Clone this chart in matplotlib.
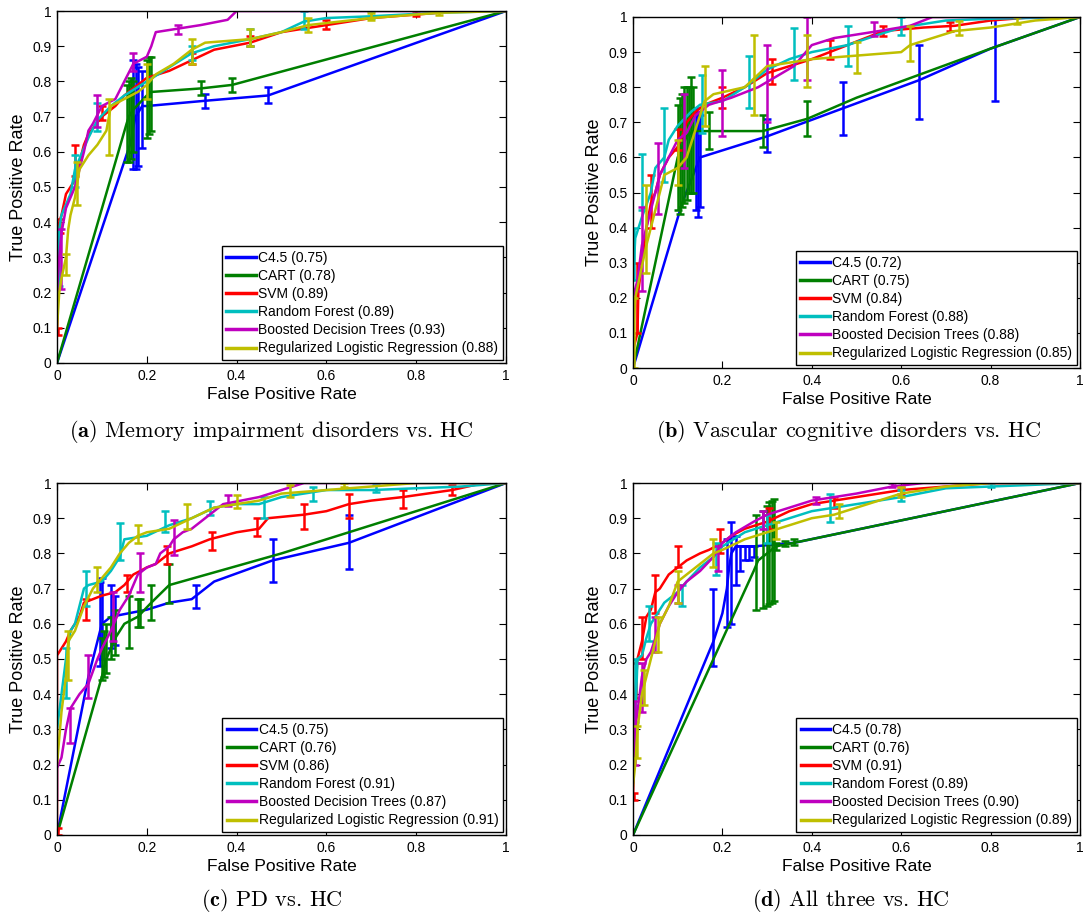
import numpy as np
import matplotlib
matplotlib.use("Agg")
import matplotlib.pyplot as plt

plt.rcParams['font.family'] = ['Liberation Sans', 'DejaVu Sans']
plt.rcParams['mathtext.fontset'] = 'cm'

methods = ["C4.5", "CART", "SVM", "Random Forest", "Boosted Decision Trees",
           "Regularized Logistic Regression"]
colors = ["#0000ff", "#007f00", "#ff0000", "#00bfbf", "#bf00bf", "#bfbf00"]

captions = ["Memory impairment disorders vs. HC", "Vascular cognitive disorders vs. HC",
            "PD vs. HC", "All three vs. HC"]
a_auc = ["0.75", "0.78", "0.89", "0.89", "0.93", "0.88"]
b_auc = ["0.72", "0.75", "0.84", "0.88", "0.88", "0.85"]
c_auc = ["0.75", "0.76", "0.86", "0.91", "0.87", "0.91"]
d_auc = ["0.78", "0.76", "0.91", "0.89", "0.90", "0.89"]

# ---- (a) memory impairment ----
a_c45_x = [0, 0.165, 0.17, 0.175, 0.18, 0.19, 0.2, 0.33, 0.47, 1.0]
a_c45_y = [0, 0.63, 0.67, 0.70, 0.71, 0.73, 0.73, 0.745, 0.76, 1.0]
a_c45_err = [(0.17, 0.55, 0.86), (0.175, 0.55, 0.85), (0.18, 0.56, 0.84), (0.19, 0.61, 0.83),
             (0.33, 0.725, 0.765), (0.47, 0.74, 0.785)]
a_cart_x = [0, 0.155, 0.16, 0.17, 0.2, 0.21, 0.32, 0.39, 1.0]
a_cart_y = [0, 0.68, 0.70, 0.72, 0.76, 0.77, 0.78, 0.79, 1.0]
a_cart_err = [(0.155, 0.57, 0.79), (0.16, 0.57, 0.80), (0.165, 0.58, 0.81), (0.17, 0.60, 0.80),
              (0.2, 0.64, 0.86), (0.205, 0.65, 0.87), (0.21, 0.66, 0.87),
              (0.32, 0.76, 0.80), (0.39, 0.77, 0.81)]
a_svm_x = [0, 0.005, 0.01, 0.02, 0.03, 0.04, 0.05, 0.06, 0.07, 0.1, 0.13, 0.15, 0.17, 0.2,
           0.25, 0.3, 0.35, 0.43, 0.5, 0.6, 0.7, 0.8, 0.9, 1.0]
a_svm_y = [0.08, 0.4, 0.42, 0.48, 0.5, 0.52, 0.57, 0.62, 0.65, 0.7, 0.73, 0.76, 0.78, 0.81,
           0.83, 0.86, 0.89, 0.91, 0.94, 0.96, 0.98, 0.99, 1.0, 1.0]
a_svm_err = [(0.003, 0.08, 0.1), (0.006, 0.37, 0.41), (0.04, 0.53, 0.62), (0.1, 0.69, 0.73),
             (0.3, 0.85, 0.88), (0.43, 0.9, 0.93), (0.6, 0.95, 0.975), (0.8, 0.985, 1.0)]
a_rf_x = [0, 0.005, 0.01, 0.03, 0.04, 0.05, 0.07, 0.09, 0.12, 0.15, 0.2, 0.25, 0.3, 0.35,
          0.43, 0.5, 0.55, 0.6, 0.7, 0.85, 1.0]
a_rf_y = [0.2, 0.38, 0.42, 0.48, 0.55, 0.58, 0.64, 0.69, 0.73, 0.76, 0.8, 0.84, 0.88, 0.9,
          0.92, 0.94, 0.97, 0.98, 0.985, 0.995, 1.0]
a_rf_err = [(0.004, 0.22, 0.38), (0.04, 0.5, 0.59), (0.09, 0.66, 0.74), (0.3, 0.86, 0.9),
            (0.43, 0.9, 0.95), (0.55, 0.95, 1.0), (0.7, 0.98, 1.0)]
a_bdt_x = [0, 0.005, 0.01, 0.02, 0.04, 0.06, 0.07, 0.08, 0.1, 0.13, 0.15, 0.17, 0.2, 0.21,
           0.22, 0.27, 0.32, 0.38, 0.4, 1.0]
a_bdt_y = [0.2, 0.3, 0.37, 0.44, 0.5, 0.6, 0.66, 0.68, 0.73, 0.75, 0.8, 0.85, 0.87, 0.9,
           0.94, 0.95, 0.96, 0.975, 1.0, 1.0]
a_bdt_err = [(0.01, 0.21, 0.38), (0.09, 0.67, 0.76), (0.17, 0.83, 0.88), (0.27, 0.935, 0.96)]
a_rlr_x = [0, 0.005, 0.01, 0.02, 0.025, 0.03, 0.04, 0.05, 0.07, 0.09, 0.11, 0.12, 0.15, 0.18,
           0.2, 0.22, 0.26, 0.3, 0.33, 0.43, 0.5, 0.56, 0.7, 0.85, 1.0]
a_rlr_y = [0.1, 0.2, 0.24, 0.3, 0.38, 0.42, 0.47, 0.55, 0.59, 0.62, 0.66, 0.73, 0.75, 0.77,
           0.79, 0.82, 0.85, 0.89, 0.91, 0.92, 0.94, 0.96, 0.98, 0.995, 1.0]
a_rlr_err = [(0.02, 0.25, 0.31), (0.045, 0.45, 0.57), (0.115, 0.59, 0.75), (0.2, 0.75, 0.85),
             (0.3, 0.85, 0.92), (0.43, 0.9, 0.95), (0.56, 0.94, 0.98), (0.7, 0.975, 0.995),
             (0.85, 0.99, 1.0)]

# ---- (b) vascular cognitive ----
b_c45_x = [0, 0.11, 0.15, 0.3, 0.47, 0.64, 0.8, 1.0]
b_c45_y = [0, 0.47, 0.6, 0.66, 0.74, 0.82, 0.91, 1.0]
b_c45_err = [(0.14, 0.45, 0.74), (0.145, 0.43, 0.73), (0.15, 0.46, 0.72), (0.3, 0.615, 0.71),
             (0.47, 0.665, 0.815), (0.64, 0.71, 0.92), (0.81, 0.76, 1.0)]
b_cart_x = [0, 0.1, 0.12, 0.135, 0.29, 0.39, 0.5, 0.8, 1.0]
b_cart_y = [0, 0.6, 0.66, 0.675, 0.675, 0.71, 0.77, 0.91, 1.0]
b_cart_err = [(0.1, 0.45, 0.75), (0.105, 0.44, 0.77), (0.11, 0.46, 0.78), (0.115, 0.47, 0.8),
              (0.12, 0.48, 0.8), (0.125, 0.5, 0.8), (0.13, 0.5, 0.83), (0.135, 0.5, 0.8),
              (0.17, 0.625, 0.73), (0.29, 0.63, 0.72), (0.39, 0.66, 0.76)]
b_svm_x = [0, 0.01, 0.012, 0.02, 0.03, 0.04, 0.05, 0.06, 0.08, 0.1, 0.11, 0.12, 0.14, 0.16,
           0.2, 0.25, 0.3, 0.35, 0.4, 0.44, 0.5, 0.56, 0.65, 0.72, 0.8, 0.9, 1.0]
b_svm_y = [0.05, 0.1, 0.22, 0.3, 0.4, 0.47, 0.5, 0.55, 0.6, 0.63, 0.66, 0.7, 0.73, 0.75,
           0.77, 0.8, 0.84, 0.86, 0.88, 0.9, 0.93, 0.96, 0.97, 0.975, 0.99, 1.0, 1.0]
b_svm_err = [(0.01, 0.1, 0.3), (0.04, 0.4, 0.55), (0.1, 0.62, 0.68), (0.2, 0.74, 0.8),
             (0.31, 0.81, 0.88), (0.44, 0.88, 0.935), (0.56, 0.945, 0.975), (0.71, 0.96, 0.985)]
b_rf_x = [0, 0.005, 0.02, 0.04, 0.05, 0.07, 0.08, 0.1, 0.13, 0.15, 0.2, 0.25, 0.3, 0.35, 0.4,
          0.48, 0.55, 0.6, 0.7, 0.8, 1.0]
b_rf_y = [0.25, 0.37, 0.43, 0.5, 0.57, 0.6, 0.65, 0.69, 0.73, 0.75, 0.76, 0.8, 0.85, 0.88,
          0.9, 0.92, 0.95, 0.97, 0.99, 0.995, 1.0]
b_rf_err = [(0.003, 0.25, 0.4), (0.02, 0.45, 0.61), (0.07, 0.53, 0.74), (0.155, 0.67, 0.835),
            (0.26, 0.74, 0.89), (0.36, 0.82, 0.97), (0.48, 0.86, 0.975), (0.6, 0.95, 1.0)]
b_bdt_x = [0, 0.01, 0.02, 0.04, 0.06, 0.08, 0.1, 0.12, 0.14, 0.17, 0.22, 0.28, 0.32, 0.36,
           0.4, 0.45, 0.5, 0.55, 0.62, 0.67, 1.0]
b_bdt_y = [0.2, 0.25, 0.35, 0.45, 0.55, 0.6, 0.65, 0.67, 0.72, 0.75, 0.77, 0.8, 0.83, 0.86,
           0.92, 0.94, 0.95, 0.96, 0.975, 1.0, 1.0]
b_bdt_err = [(0.02, 0.22, 0.46), (0.055, 0.44, 0.64), (0.115, 0.57, 0.78), (0.2, 0.66, 0.85),
             (0.3, 0.7, 0.92), (0.39, 0.82, 1.0), (0.54, 0.945, 0.985)]
b_rlr_x = [0, 0.005, 0.03, 0.05, 0.07, 0.1, 0.12, 0.14, 0.16, 0.18, 0.25, 0.3, 0.35, 0.4,
           0.5, 0.6, 0.62, 0.67, 0.72, 0.8, 0.9, 1.0]
b_rlr_y = [0.1, 0.2, 0.35, 0.45, 0.55, 0.57, 0.6, 0.68, 0.76, 0.78, 0.8, 0.86, 0.87, 0.88,
           0.89, 0.9, 0.92, 0.94, 0.96, 0.97, 0.99, 1.0]
b_rlr_err = [(0.003, 0.0, 0.2), (0.03, 0.27, 0.52), (0.1, 0.52, 0.65), (0.16, 0.69, 0.86),
             (0.27, 0.72, 0.95), (0.39, 0.8, 0.95), (0.5, 0.84, 0.93), (0.62, 0.875, 0.975),
             (0.73, 0.95, 0.99), (0.86, 0.98, 1.0)]

# ---- (c) PD ----
c_c45_x = [0, 0.07, 0.1, 0.12, 0.2, 0.25, 0.3, 0.35, 0.48, 0.65, 1.0]
c_c45_y = [0, 0.45, 0.6, 0.62, 0.64, 0.66, 0.67, 0.72, 0.78, 0.83, 1.0]
c_c45_err = [(0.095, 0.48, 0.72), (0.1, 0.5, 0.73), (0.12, 0.53, 0.71), (0.13, 0.54, 0.68),
             (0.31, 0.645, 0.71), (0.48, 0.72, 0.84), (0.65, 0.755, 0.91)]
c_cart_x = [0, 0.1, 0.11, 0.13, 0.15, 0.18, 0.21, 0.25, 0.5, 1.0]
c_cart_y = [0, 0.45, 0.5, 0.56, 0.6, 0.62, 0.66, 0.71, 0.8, 1.0]
c_cart_err = [(0.1, 0.44, 0.56), (0.105, 0.45, 0.58), (0.11, 0.46, 0.6), (0.12, 0.5, 0.62),
              (0.13, 0.51, 0.64), (0.16, 0.53, 0.68), (0.18, 0.59, 0.67), (0.185, 0.59, 0.67),
              (0.21, 0.61, 0.71), (0.25, 0.66, 0.77)]
c_svm_x = [0, 0, 0.01, 0.02, 0.03, 0.05, 0.06, 0.08, 0.1, 0.13, 0.15, 0.17, 0.2, 0.22, 0.25,
           0.3, 0.34, 0.4, 0.45, 0.47, 0.55, 0.6, 0.65, 0.7, 0.77, 0.88, 0.95, 1.0]
c_svm_y = [0.02, 0.51, 0.53, 0.55, 0.58, 0.62, 0.66, 0.67, 0.68, 0.69, 0.71, 0.74, 0.76,
           0.77, 0.8, 0.82, 0.84, 0.86, 0.87, 0.9, 0.91, 0.92, 0.94, 0.95, 0.96, 0.98, 1.0, 1.0]
c_svm_err = [(0.003, 0.0, 0.02), (0.065, 0.61, 0.67), (0.155, 0.69, 0.74), (0.245, 0.77, 0.82),
             (0.345, 0.81, 0.86), (0.445, 0.85, 0.9), (0.55, 0.87, 0.94), (0.65, 0.9, 0.97),
             (0.77, 0.93, 0.98), (0.88, 0.965, 0.995)]
c_rf_x = [0, 0.01, 0.02, 0.03, 0.04, 0.05, 0.06, 0.07, 0.1, 0.12, 0.14, 0.15, 0.2, 0.25, 0.3,
          0.35, 0.4, 0.45, 0.5, 0.55, 0.6, 0.7, 0.9, 1.0]
c_rf_y = [0.3, 0.4, 0.5, 0.58, 0.6, 0.65, 0.7, 0.71, 0.72, 0.75, 0.79, 0.84, 0.85, 0.88,
          0.9, 0.93, 0.94, 0.94, 0.96, 0.97, 0.98, 0.98, 0.99, 1.0]
c_rf_err = [(0.02, 0.39, 0.53), (0.065, 0.65, 0.75), (0.14, 0.78, 0.885), (0.24, 0.86, 0.92),
            (0.34, 0.91, 0.95), (0.46, 0.9, 0.96), (0.57, 0.95, 0.99), (0.71, 0.975, 0.995)]
c_bdt_x = [0, 0, 0.01, 0.02, 0.03, 0.05, 0.07, 0.09, 0.1, 0.12, 0.14, 0.16, 0.18, 0.2, 0.22,
           0.23, 0.25, 0.26, 0.28, 0.3, 0.33, 0.37, 0.45, 0.5, 0.55, 1.0]
c_bdt_y = [0.1, 0.19, 0.22, 0.3, 0.36, 0.4, 0.43, 0.5, 0.53, 0.58, 0.64, 0.68, 0.74, 0.76,
           0.77, 0.8, 0.82, 0.84, 0.86, 0.87, 0.9, 0.94, 0.96, 0.98, 1.0, 1.0]
c_bdt_err = [(0.03, 0.26, 0.36), (0.07, 0.39, 0.51), (0.125, 0.55, 0.69), (0.185, 0.69, 0.8),
             (0.26, 0.795, 0.895), (0.38, 0.935, 0.965)]
c_rlr_x = [0, 0.01, 0.02, 0.025, 0.04, 0.06, 0.08, 0.1, 0.12, 0.14, 0.16, 0.18, 0.2, 0.25,
           0.3, 0.35, 0.4, 0.45, 0.5, 0.6, 0.7, 0.8, 1.0]
c_rlr_y = [0.2, 0.35, 0.45, 0.55, 0.58, 0.65, 0.7, 0.73, 0.76, 0.8, 0.83, 0.85, 0.86, 0.87,
           0.9, 0.93, 0.94, 0.95, 0.97, 0.98, 0.99, 1.0, 1.0]
c_rlr_err = [(0.025, 0.44, 0.58), (0.09, 0.69, 0.76), (0.18, 0.83, 0.88), (0.29, 0.87, 0.94),
             (0.4, 0.93, 0.965), (0.52, 0.96, 0.995), (0.64, 0.99, 1.0)]

# ---- (d) all three ----
d_c45_x = [0, 0.17, 0.18, 0.2, 0.21, 0.215, 0.22, 0.23, 0.27, 0.36, 1.0]
d_c45_y = [0, 0.52, 0.55, 0.63, 0.7, 0.76, 0.8, 0.82, 0.82, 0.83, 1.0]
d_c45_err = [(0.18, 0.48, 0.7), (0.21, 0.59, 0.84), (0.22, 0.6, 0.89), (0.23, 0.71, 0.85),
             (0.24, 0.75, 0.82), (0.25, 0.78, 0.82), (0.26, 0.78, 0.82), (0.27, 0.79, 0.82)]
d_cart_x = [0, 0.27, 0.28, 0.3, 0.32, 0.36, 1.0]
d_cart_y = [0, 0.75, 0.78, 0.8, 0.82, 0.83, 1.0]
d_cart_err = [(0.275, 0.64, 0.91), (0.29, 0.645, 0.92), (0.3, 0.65, 0.935), (0.305, 0.655, 0.945),
              (0.31, 0.66, 0.95), (0.315, 0.665, 0.955), (0.32, 0.81, 0.83), (0.34, 0.82, 0.835),
              (0.36, 0.825, 0.84)]
d_svm_x = [0, 0.005, 0.01, 0.02, 0.03, 0.04, 0.05, 0.06, 0.08, 0.1, 0.12, 0.15, 0.17, 0.2,
           0.22, 0.25, 0.3, 0.35, 0.4, 0.5, 0.6, 0.7, 0.8, 1.0]
d_svm_y = [0.1, 0.4, 0.5, 0.55, 0.62, 0.64, 0.69, 0.7, 0.74, 0.76, 0.78, 0.8, 0.81, 0.83,
           0.85, 0.87, 0.89, 0.92, 0.94, 0.96, 0.98, 0.99, 1.0, 1.0]
d_svm_err = [(0.003, 0.1, 0.12), (0.006, 0.39, 0.49), (0.02, 0.5, 0.62), (0.05, 0.63, 0.74),
             (0.1, 0.76, 0.82), (0.195, 0.8, 0.87), (0.305, 0.87, 0.93), (0.45, 0.93, 0.96),
             (0.6, 0.97, 0.99)]
d_rf_x = [0, 0.005, 0.01, 0.02, 0.03, 0.04, 0.05, 0.07, 0.1, 0.12, 0.15, 0.18, 0.2, 0.25,
          0.3, 0.35, 0.4, 0.45, 0.5, 0.6, 0.7, 0.8, 0.9, 1.0]
d_rf_y = [0.15, 0.32, 0.5, 0.51, 0.56, 0.6, 0.62, 0.66, 0.69, 0.72, 0.76, 0.79, 0.82, 0.86,
          0.88, 0.9, 0.92, 0.93, 0.94, 0.96, 0.985, 0.99, 0.995, 1.0]
d_rf_err = [(0.005, 0.32, 0.5), (0.035, 0.55, 0.65), (0.11, 0.65, 0.71), (0.185, 0.74, 0.83),
            (0.3, 0.83, 0.91), (0.44, 0.89, 0.97), (0.6, 0.95, 0.98), (0.8, 0.99, 1.0)]
d_bdt_x = [0, 0.005, 0.01, 0.02, 0.03, 0.04, 0.05, 0.06, 0.08, 0.1, 0.12, 0.15, 0.18, 0.2,
           0.23, 0.27, 0.3, 0.35, 0.4, 0.5, 0.58, 0.65, 1.0]
d_bdt_y = [0.15, 0.3, 0.35, 0.45, 0.5, 0.52, 0.56, 0.6, 0.65, 0.69, 0.72, 0.75, 0.79, 0.83,
           0.86, 0.89, 0.91, 0.93, 0.95, 0.97, 0.99, 1.0, 1.0]
d_bdt_err = [(0.005, 0.2, 0.38), (0.02, 0.35, 0.49), (0.05, 0.52, 0.62), (0.1, 0.66, 0.71),
             (0.19, 0.75, 0.82), (0.29, 0.87, 0.92), (0.41, 0.94, 0.96), (0.58, 0.99, 1.0)]
d_rlr_x = [0, 0.005, 0.01, 0.02, 0.03, 0.05, 0.06, 0.08, 0.1, 0.12, 0.15, 0.18, 0.2, 0.25,
           0.3, 0.35, 0.4, 0.45, 0.5, 0.55, 0.6, 0.7, 0.8, 1.0]
d_rlr_y = [0.14, 0.2, 0.3, 0.4, 0.45, 0.55, 0.6, 0.65, 0.72, 0.74, 0.77, 0.8, 0.81, 0.84,
           0.86, 0.88, 0.9, 0.91, 0.93, 0.95, 0.97, 0.99, 1.0, 1.0]
d_rlr_err = [(0.01, 0.22, 0.31), (0.025, 0.37, 0.47), (0.055, 0.52, 0.62), (0.1, 0.66, 0.75),
             (0.18, 0.76, 0.84), (0.32, 0.84, 0.89), (0.46, 0.9, 0.94), (0.6, 0.96, 0.99)]

panels = [
    ("a", a_auc, [(a_c45_x, a_c45_y, a_c45_err), (a_cart_x, a_cart_y, a_cart_err),
                  (a_svm_x, a_svm_y, a_svm_err), (a_rf_x, a_rf_y, a_rf_err),
                  (a_bdt_x, a_bdt_y, a_bdt_err), (a_rlr_x, a_rlr_y, a_rlr_err)]),
    ("b", b_auc, [(b_c45_x, b_c45_y, b_c45_err), (b_cart_x, b_cart_y, b_cart_err),
                  (b_svm_x, b_svm_y, b_svm_err), (b_rf_x, b_rf_y, b_rf_err),
                  (b_bdt_x, b_bdt_y, b_bdt_err), (b_rlr_x, b_rlr_y, b_rlr_err)]),
    ("c", c_auc, [(c_c45_x, c_c45_y, c_c45_err), (c_cart_x, c_cart_y, c_cart_err),
                  (c_svm_x, c_svm_y, c_svm_err), (c_rf_x, c_rf_y, c_rf_err),
                  (c_bdt_x, c_bdt_y, c_bdt_err), (c_rlr_x, c_rlr_y, c_rlr_err)]),
    ("d", d_auc, [(d_c45_x, d_c45_y, d_c45_err), (d_cart_x, d_cart_y, d_cart_err),
                  (d_svm_x, d_svm_y, d_svm_err), (d_rf_x, d_rf_y, d_rf_err),
                  (d_bdt_x, d_bdt_y, d_bdt_err), (d_rlr_x, d_rlr_y, d_rlr_err)]),
]

W, H = 1083, 917
fig = plt.figure(figsize=(W / 100, H / 100), dpi=100)

# axes boxes in pixels: left, top, right, bottom
boxes = [(57, 11, 506, 363), (633, 17, 1080, 368), (57, 483, 506, 835), (633, 483, 1080, 835)]
cap_pos = [(271, 432), (848, 432), (272, 900), (851, 900)]

for i, (tag, auc, curves) in enumerate(panels):
    l, t, r, b = boxes[i]
    ax = fig.add_axes([l / W, 1 - b / H, (r - l) / W, (b - t) / H])
    for j, (xs, ys, errs) in enumerate(curves):
        ax.plot(xs, ys, color=colors[j], lw=1.8, label=f"{methods[j]} ({auc[j]})")
        ex = np.array([e[0] for e in errs])
        lo = np.array([e[1] for e in errs])
        hi = np.array([e[2] for e in errs])
        ax.errorbar(ex, (lo + hi) / 2, yerr=(hi - lo) / 2, fmt='none', ecolor=colors[j],
                    elinewidth=1.8, capsize=3, capthick=1.8)
    ax.set_xlim(0, 1)
    ax.set_ylim(0, 1)
    ax.set_xticks(np.arange(0, 1.01, 0.2))
    ax.set_yticks(np.arange(0, 1.01, 0.1))
    ax.set_xticklabels(["0", "0.2", "0.4", "0.6", "0.8", "1"])
    ax.set_yticklabels(["0"] + [f"{v:.1f}" for v in np.arange(0.1, 0.95, 0.1)] + ["1"])
    ax.tick_params(direction='in', top=True, right=True, length=5, labelsize=10, pad=4)
    for s in ax.spines.values():
        s.set_linewidth(1.0)
    ax.set_xlabel("False Positive Rate", fontsize=12.5, labelpad=3)
    ax.set_ylabel("True Positive Rate", fontsize=13, labelpad=4)
    leg = ax.legend(loc='lower right', fontsize=10, handlelength=2.1, handletextpad=0.2,
                    labelspacing=0.3, borderpad=0.3, borderaxespad=0.25, fancybox=False,
                    framealpha=1)
    leg.get_frame().set_edgecolor('black')
    leg.get_frame().set_linewidth(1.0)
    for ln in leg.get_lines():
        ln.set_linewidth(2.5)
    cx, cy = cap_pos[i]
    fig.text(cx / W, 1 - cy / H, r"$\mathbf{(" + tag + r")}$ " + captions[i],
             family='cmr10', fontsize=16, ha='center', va='center')

fig.savefig("out.png", dpi=100)
